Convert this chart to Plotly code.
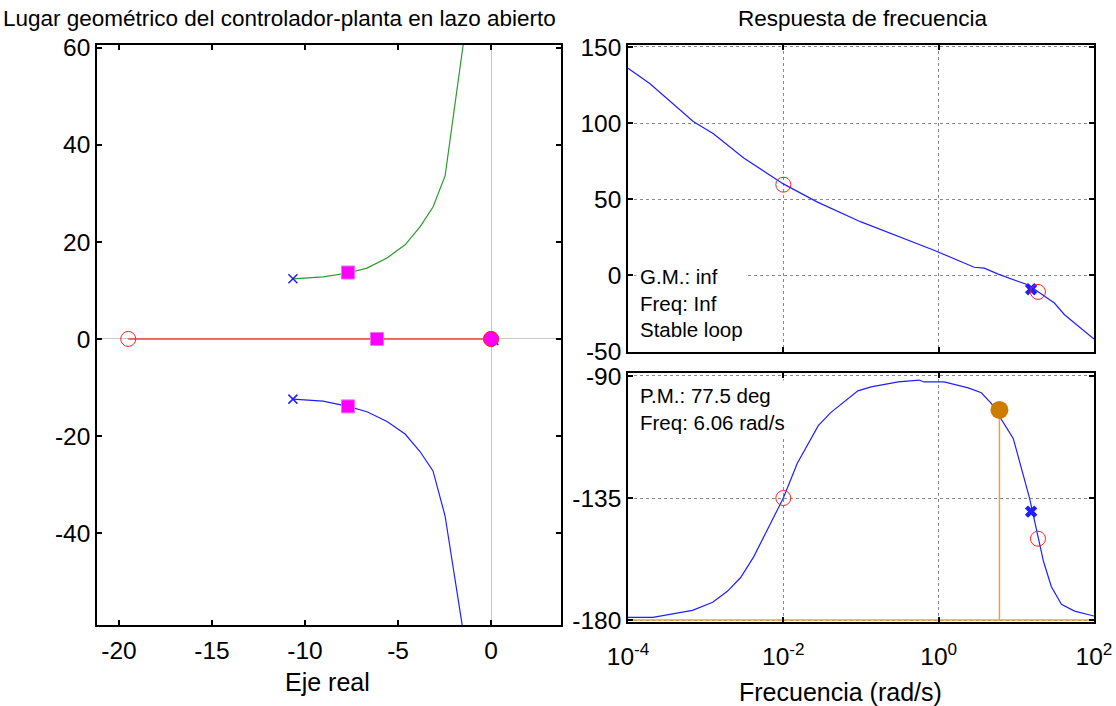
import plotly.graph_objects as go

# ---------------- Root locus data ----------------
rl_upper_re = [-10.65, -9.03, -7.69, -6.67, -5.59, -4.62, -3.82, -3.12, -2.47, -2.04, -1.5]
rl_upper_im = [12.4, 12.8, 13.6, 14.6, 16.7, 19.4, 23.1, 27.2, 33.6, 45.8, 60.6]
rl_lower_re = [-10.65, -9.03, -7.69, -6.67, -5.59, -4.62, -3.82, -3.12, -2.47, -2.04, -1.55]
rl_lower_im = [-12.4, -12.8, -13.9, -15.0, -17.0, -19.6, -23.2, -27.2, -36.5, -47.0, -59.0]
rl_real_re = [-19.5, -15.0, -10.0, -5.0, 0.0]
rl_real_im = [0, 0, 0, 0, 0]
ol_poles_re = [-10.65, -10.65, 0.15]
ol_poles_im = [12.4, -12.4, -0.3]
ol_zeros_re = [-19.5, 0.0]
ol_zeros_im = [0.0, 0.0]
cl_poles_re = [-7.69, -7.69, -6.13]
cl_poles_im = [13.7, -13.9, 0.0]
cl_origin_re = [0.0]
cl_origin_im = [0.0]
rl_xticks = [-20, -15, -10, -5, 0]
rl_xticktext = ["-20", "-15", "-10", "-5", "0"]
rl_yticks = [-40, -20, 0, 20, 40, 60]
rl_yticktext = ["-40", "-20", "0", "20", "40", "60"]

# ---------------- Bode data ----------------
mag_w = [1e-4, 10**-3.72, 10**-3.16, 10**-2.90, 10**-2.51, 1e-2, 10**-1.56, 1e-1,
         10**-0.06, 10**0.457, 10**0.587, 10**0.767, 10**1.155, 10**1.49, 10**1.62, 1e2]
mag_db = [136, 126, 101, 93, 77, 60, 48, 35, 16.4, 5.2, 4.6, 0.7, -6.5, -18.3, -26, -42]

ph_w = [1e-4, 10**-3.68, 10**-3.17, 10**-2.91, 10**-2.72, 10**-2.55, 10**-2.38, 10**-2.19,
        1e-2, 10**-1.82, 10**-1.55, 10**-1.39, 10**-1.04, 10**-0.87, 10**-0.52, 10**-0.25,
        10**-0.19, 10**0.07, 10**0.38, 10**0.55, 10**0.68, 10**0.96, 10**1.065, 10**1.17,
        10**1.35, 10**1.45, 10**1.58, 10**1.75, 1e2]
ph_deg = [-179.0, -179.0, -176.4, -173.4, -169.4, -164.3, -156.6, -145.6,
          -135.0, -122.2, -108.3, -103.5, -95.5, -94.0, -92.2, -91.5,
          -92.2, -92.2, -94.4, -96.2, -100.2, -113.0, -123.7, -135.0,
          -158.4, -167.6, -174.2, -176.7, -178.5]

gm_marker_w = [15.5]
gm_marker_db = [-9.2]
gm_zero_w = [1e-2, 19.0]
gm_zero_db = [59.5, -11.0]
ph_marker_w = [15.5]
ph_marker_deg = [-140.0]
ph_zero_w = [1e-2, 19.0]
ph_zero_deg = [-135.0, -150.0]
pm_w = [6.06]
pm_deg = [-102.5]
pm_floor = [-180.0]
freq_span = [1e-4, 1e2]
freq_ticks = [1e-4, 1e-2, 1, 1e2]
freq_ticktext = ["10<sup>-4</sup>", "10<sup>-2</sup>", "10<sup>0</sup>", "10<sup>2</sup>"]
mag_ticks = [-50, 0, 50, 100, 150]
mag_ticktext = ["-50", "0", "50", "100", "150"]
ph_ticks = [-180, -135, -90]
ph_ticktext = ["-180", "-135", "-90"]

FONT = "Liberation Sans, Arial, sans-serif"
W, H = 1116, 706
RED = "#ff2020"
BLUE = "#1f1fff"
TICK_SIZE = 24.5
LABEL_SIZE = 25
TITLE_SIZE = 22.5
NOTE_SIZE = 20.5

def px(x):
    return x / W

def py(y):
    return 1 - y / H

fig = go.Figure()

# Root locus branches
fig.add_trace(go.Scatter(x=rl_real_re, y=rl_real_im, mode="lines",
                         line=dict(color="#f04040", width=1.5), xaxis="x", yaxis="y"))
fig.add_trace(go.Scatter(x=rl_upper_re, y=rl_upper_im, mode="lines",
                         line=dict(color="#2a9a2a", width=1.2), xaxis="x", yaxis="y"))
fig.add_trace(go.Scatter(x=rl_lower_re, y=rl_lower_im, mode="lines",
                         line=dict(color=BLUE, width=1.2), xaxis="x", yaxis="y"))
fig.add_trace(go.Scatter(x=ol_poles_re, y=ol_poles_im, mode="markers",
                         marker=dict(symbol="x-thin-open", size=9, color=BLUE,
                                     line=dict(color=BLUE, width=1.5)),
                         xaxis="x", yaxis="y"))
fig.add_trace(go.Scatter(x=cl_poles_re, y=cl_poles_im, mode="markers",
                         marker=dict(symbol="square", size=13, color="#ff00ff",
                                     line=dict(color="#ff66ff", width=1)),
                         xaxis="x", yaxis="y"))
fig.add_trace(go.Scatter(x=cl_origin_re, y=cl_origin_im, mode="markers",
                         marker=dict(symbol="circle", size=15, color="#ff00ff",
                                     line=dict(color="#ff4040", width=1)),
                         xaxis="x", yaxis="y"))
fig.add_trace(go.Scatter(x=ol_zeros_re, y=ol_zeros_im, mode="markers",
                         marker=dict(symbol="circle-open", size=15, color=RED,
                                     line=dict(color=RED, width=1)),
                         xaxis="x", yaxis="y"))

# Magnitude
fig.add_trace(go.Scatter(x=mag_w, y=mag_db, mode="lines",
                         line=dict(color=BLUE, width=1.2), xaxis="x2", yaxis="y2"))
fig.add_trace(go.Scatter(x=gm_marker_w, y=gm_marker_db, mode="markers",
                         marker=dict(symbol="x", size=11, color=BLUE),
                         xaxis="x2", yaxis="y2"))
fig.add_trace(go.Scatter(x=gm_zero_w, y=gm_zero_db, mode="markers",
                         marker=dict(symbol="circle-open", size=15, color=RED,
                                     line=dict(color=RED, width=1)),
                         xaxis="x2", yaxis="y2"))

# Phase
fig.add_trace(go.Scatter(x=freq_span, y=pm_floor * 2, mode="lines",
                         line=dict(color="#e8a33c", width=1.5), xaxis="x3", yaxis="y3"))
fig.add_trace(go.Scatter(x=pm_w * 2, y=[pm_floor[0], pm_deg[0]], mode="lines",
                         line=dict(color="#e8a33c", width=1.5), xaxis="x3", yaxis="y3"))
fig.add_trace(go.Scatter(x=ph_w, y=ph_deg, mode="lines",
                         line=dict(color=BLUE, width=1.2), xaxis="x3", yaxis="y3"))
fig.add_trace(go.Scatter(x=ph_marker_w, y=ph_marker_deg, mode="markers",
                         marker=dict(symbol="x", size=11, color=BLUE),
                         xaxis="x3", yaxis="y3"))
fig.add_trace(go.Scatter(x=ph_zero_w, y=ph_zero_deg, mode="markers",
                         marker=dict(symbol="circle-open", size=15, color=RED,
                                     line=dict(color=RED, width=1)),
                         xaxis="x3", yaxis="y3"))
fig.add_trace(go.Scatter(x=pm_w, y=pm_deg, mode="markers",
                         marker=dict(symbol="circle", size=18, color="#cc7d00"),
                         xaxis="x3", yaxis="y3"))

axis_common = dict(showline=True, linecolor="black", linewidth=1.5, mirror="allticks",
                   ticks="inside", ticklen=5, tickcolor="black", tickwidth=1.5,
                   automargin=False,
                   tickfont=dict(family=FONT, size=TICK_SIZE, color="black"))

grid = dict(showgrid=True, gridcolor="#8a8a8a", griddash="dot", gridwidth=1)

fig.update_layout(
    width=W, height=H, margin=dict(l=0, r=0, t=0, b=0, pad=0, autoexpand=False),
    paper_bgcolor="white", plot_bgcolor="white", showlegend=False,
    font=dict(family=FONT, size=20, color="black"),
    xaxis=dict(domain=[px(97), px(561)], range=[-21.18, 3.76], anchor="y",
               tickvals=rl_xticks, ticktext=rl_xticktext, showgrid=False, ticklabelstandoff=3,
               zeroline=True, zerolinecolor="#c8c8c8", zerolinewidth=1, **axis_common),
    yaxis=dict(domain=[py(625), py(45)], range=[-58.97, 60.6], anchor="x",
               tickvals=rl_yticks, ticktext=rl_yticktext, showgrid=False,
               zeroline=True, zerolinecolor="#c8c8c8", zerolinewidth=1, **axis_common),
    xaxis2=dict(domain=[px(628), px(1094)], type="log", range=[-4, 2], anchor="y2",
                tickvals=freq_ticks, showticklabels=False, zeroline=False,
                **grid, **axis_common),
    yaxis2=dict(domain=[py(352), py(45)], range=[-50.5, 151.3], anchor="x2",
                tickvals=mag_ticks, ticktext=mag_ticktext, zeroline=False, **grid, **axis_common),
    xaxis3=dict(domain=[px(628), px(1094)], type="log", range=[-4, 2], anchor="y3",
                tickvals=freq_ticks, ticktext=freq_ticktext, ticklabelstandoff=12,
                zeroline=False, **grid, **axis_common),
    yaxis3=dict(domain=[py(622), py(373)], range=[-180.7, -88.9], anchor="x3",
                tickvals=ph_ticks, ticktext=ph_ticktext, zeroline=False, **grid, **axis_common),
    annotations=[
        dict(text="Lugar geométrico del controlador-planta en lazo abierto",
             x=px(1), y=py(18), xref="paper", yref="paper", xanchor="left", yanchor="middle",
             showarrow=False, font=dict(family=FONT, size=TITLE_SIZE)),
        dict(text="Respuesta de frecuencia",
             x=px(862), y=py(18), xref="paper", yref="paper", xanchor="center", yanchor="middle",
             showarrow=False, font=dict(family=FONT, size=TITLE_SIZE)),
        dict(text="Eje real",
             x=px(327), y=py(682), xref="paper", yref="paper", xanchor="center", yanchor="middle",
             showarrow=False, font=dict(family=FONT, size=LABEL_SIZE)),
        dict(text="Frecuencia (rad/s)",
             x=px(840), y=py(692), xref="paper", yref="paper", xanchor="center", yanchor="middle",
             showarrow=False, font=dict(family=FONT, size=LABEL_SIZE)),
        dict(text="G.M.: inf<br>Freq: Inf<br>Stable loop",
             x=px(636), y=py(261), xref="paper", yref="paper", xanchor="left", yanchor="top",
             align="left", showarrow=False, bgcolor="white", borderpad=3,
             font=dict(family=FONT, size=NOTE_SIZE)),
        dict(text="P.M.: 77.5 deg<br>Freq: 6.06 rad/s",
             x=px(636), y=py(380), xref="paper", yref="paper", xanchor="left", yanchor="top",
             align="left", showarrow=False, bgcolor="white", borderpad=3,
             font=dict(family=FONT, size=NOTE_SIZE)),
    ],
)

fig.write_html("out.html")
